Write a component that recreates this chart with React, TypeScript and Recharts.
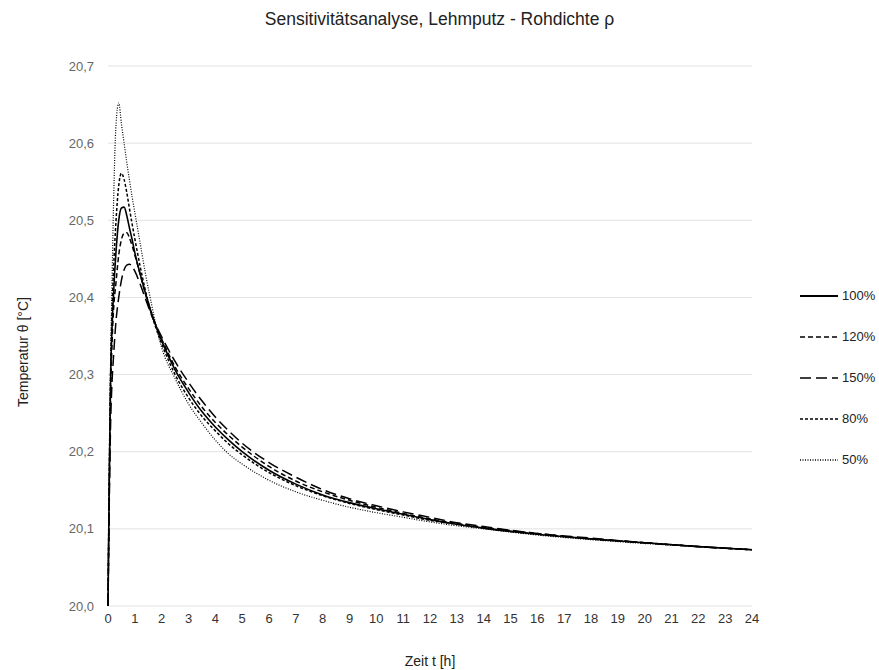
import React from 'react';
import { LineChart, Line, XAxis, YAxis, CartesianGrid, Legend, Label } from 'recharts';

const TITLE = 'Sensitivitätsanalyse, Lehmputz - Rohdichte ρ';
const X_LABEL = 'Zeit t [h]';
const Y_LABEL = 'Temperatur θ [°C]';

const TIMES = [0, 0.05, 0.1, 0.15, 0.2, 0.3, 0.4, 0.5, 0.6, 0.7, 0.8, 0.9, 1.0, 1.2, 1.4, 1.6, 1.8, 2.0, 2.5, 3, 3.5, 4, 4.5, 5, 6, 7, 8, 9, 10, 11, 12, 13, 14, 16, 18, 20, 22, 24];

const S100 = [20.0, 20.17, 20.30, 20.36, 20.40, 20.46, 20.50, 20.516, 20.517, 20.506, 20.49, 20.475, 20.458, 20.43, 20.405, 20.382, 20.362, 20.344, 20.306, 20.277, 20.252, 20.232, 20.215, 20.200, 20.176, 20.158, 20.144, 20.134, 20.126, 20.119, 20.112, 20.106, 20.101, 20.093, 20.087, 20.082, 20.077, 20.073];
const S120 = [20.0, 20.16, 20.28, 20.34, 20.38, 20.42, 20.455, 20.475, 20.483, 20.484, 20.477, 20.467, 20.455, 20.43, 20.404, 20.381, 20.362, 20.346, 20.31, 20.282, 20.258, 20.238, 20.221, 20.206, 20.181, 20.162, 20.148, 20.137, 20.128, 20.12, 20.113, 20.107, 20.102, 20.094, 20.087, 20.082, 20.077, 20.073];
const S150 = [20.0, 20.14, 20.24, 20.29, 20.32, 20.37, 20.40, 20.422, 20.436, 20.442, 20.443, 20.44, 20.434, 20.417, 20.398, 20.379, 20.363, 20.349, 20.317, 20.29, 20.266, 20.245, 20.227, 20.211, 20.186, 20.167, 20.151, 20.139, 20.13, 20.122, 20.115, 20.108, 20.103, 20.094, 20.088, 20.082, 20.077, 20.073];
const S80 = [20.0, 20.18, 20.31, 20.38, 20.43, 20.50, 20.545, 20.561, 20.553, 20.536, 20.515, 20.495, 20.476, 20.44, 20.408, 20.381, 20.359, 20.34, 20.30, 20.27, 20.246, 20.227, 20.21, 20.196, 20.173, 20.156, 20.143, 20.133, 20.125, 20.118, 20.111, 20.106, 20.101, 20.093, 20.087, 20.082, 20.077, 20.073];
const S50 = [20.0, 20.18, 20.32, 20.42, 20.51, 20.625, 20.652, 20.625, 20.60, 20.575, 20.552, 20.53, 20.51, 20.47, 20.43, 20.395, 20.362, 20.335, 20.295, 20.262, 20.237, 20.215, 20.197, 20.184, 20.163, 20.148, 20.137, 20.128, 20.121, 20.115, 20.109, 20.104, 20.1, 20.092, 20.086, 20.081, 20.077, 20.073];

const SERIES_NAMES = ['100%', '120%', '150%', '80%', '50%'];
const SERIES_VALUES = [S100, S120, S150, S80, S50];
const SERIES_DASH = ['', '5 3', '11 5', '3 2', '1 1.5'];
const SERIES_WIDTH = [1.6, 1.5, 1.5, 1.5, 1.2];

const X_TICKS = Array.from({ length: 25 }, (_, i) => i);
const Y_TICKS = [20.0, 20.1, 20.2, 20.3, 20.4, 20.5, 20.6, 20.7];

const data = TIMES.map((t, i) => {
  const row: Record<string, number> = { t };
  SERIES_NAMES.forEach((n, k) => { row[n] = SERIES_VALUES[k][i]; });
  return row;
});

const FONT = '"Liberation Sans", Arial, Helvetica, sans-serif';

const renderLegend = () => (
  <div style={{ fontFamily: FONT, fontSize: 13, color: '#222' }}>
    {SERIES_NAMES.map((n, k) => (
      <div key={n} style={{ display: 'flex', alignItems: 'center', height: 41 }}>
        <svg width={43} height={10} style={{ display: 'block' }}>
          <line x1={3} y1={5} x2={41} y2={5} stroke="#000" strokeWidth={SERIES_WIDTH[k] + 0.2} strokeDasharray={SERIES_DASH[k] || undefined} />
        </svg>
        <span style={{ marginLeft: 2 }}>{n}</span>
      </div>
    ))}
  </div>
);

const renderYLabel = () => (
  <text x={23} y={352} transform="rotate(-90 23 352)" textAnchor="middle" dominantBaseline="central" style={{ fontSize: 14, fill: '#222', fontFamily: FONT }}>
    {Y_LABEL}
  </text>
);

export default function App() {
  return (
    <div style={{ position: 'absolute', left: 0, top: 0, width: 879, height: 670, background: '#fff', fontFamily: FONT }}>
      <div style={{ position: 'absolute', left: 0, top: 9, width: 879, textAlign: 'center', fontSize: 17.5, color: '#222' }}>{TITLE}</div>
      <LineChart width={879} height={670} data={data} margin={{ top: 66, right: 45, bottom: 0, left: 0 }}>
        <CartesianGrid horizontal vertical={false} stroke="#e2e2e2" />
        <XAxis
          dataKey="t"
          type="number"
          domain={[0, 24]}
          ticks={X_TICKS}
          interval={0}
          axisLine={false}
          tickLine={false}
          height={64}
          tick={{ fontSize: 13, fill: '#333', fontFamily: FONT }}
          tickMargin={2}
        >
          <Label value={X_LABEL} position="insideBottom" offset={4} style={{ fontSize: 14, fill: '#222', fontFamily: FONT }} />
        </XAxis>
        <YAxis
          type="number"
          domain={[20, 20.7]}
          ticks={Y_TICKS}
          interval={0}
          axisLine={false}
          tickLine={false}
          width={108}
          tickFormatter={(v: number) => v.toFixed(1).replace('.', ',')}
          tick={{ fontSize: 13, fill: '#666', fontFamily: FONT }}
          tickMargin={8}
        >
          <Label content={renderYLabel} />
        </YAxis>
        <Legend
          layout="vertical"
          align="right"
          verticalAlign="middle"
          content={renderLegend}
          wrapperStyle={{ position: 'absolute', left: 797, top: 275, width: 82 }}
        />
        {SERIES_NAMES.map((n, k) => (
          <Line
            key={n}
            dataKey={n}
            type="monotone"
            stroke="#000"
            strokeWidth={SERIES_WIDTH[k]}
            strokeDasharray={SERIES_DASH[k] || undefined}
            dot={false}
            activeDot={false}
            isAnimationActive={false}
          />
        ))}
      </LineChart>
    </div>
  );
}
